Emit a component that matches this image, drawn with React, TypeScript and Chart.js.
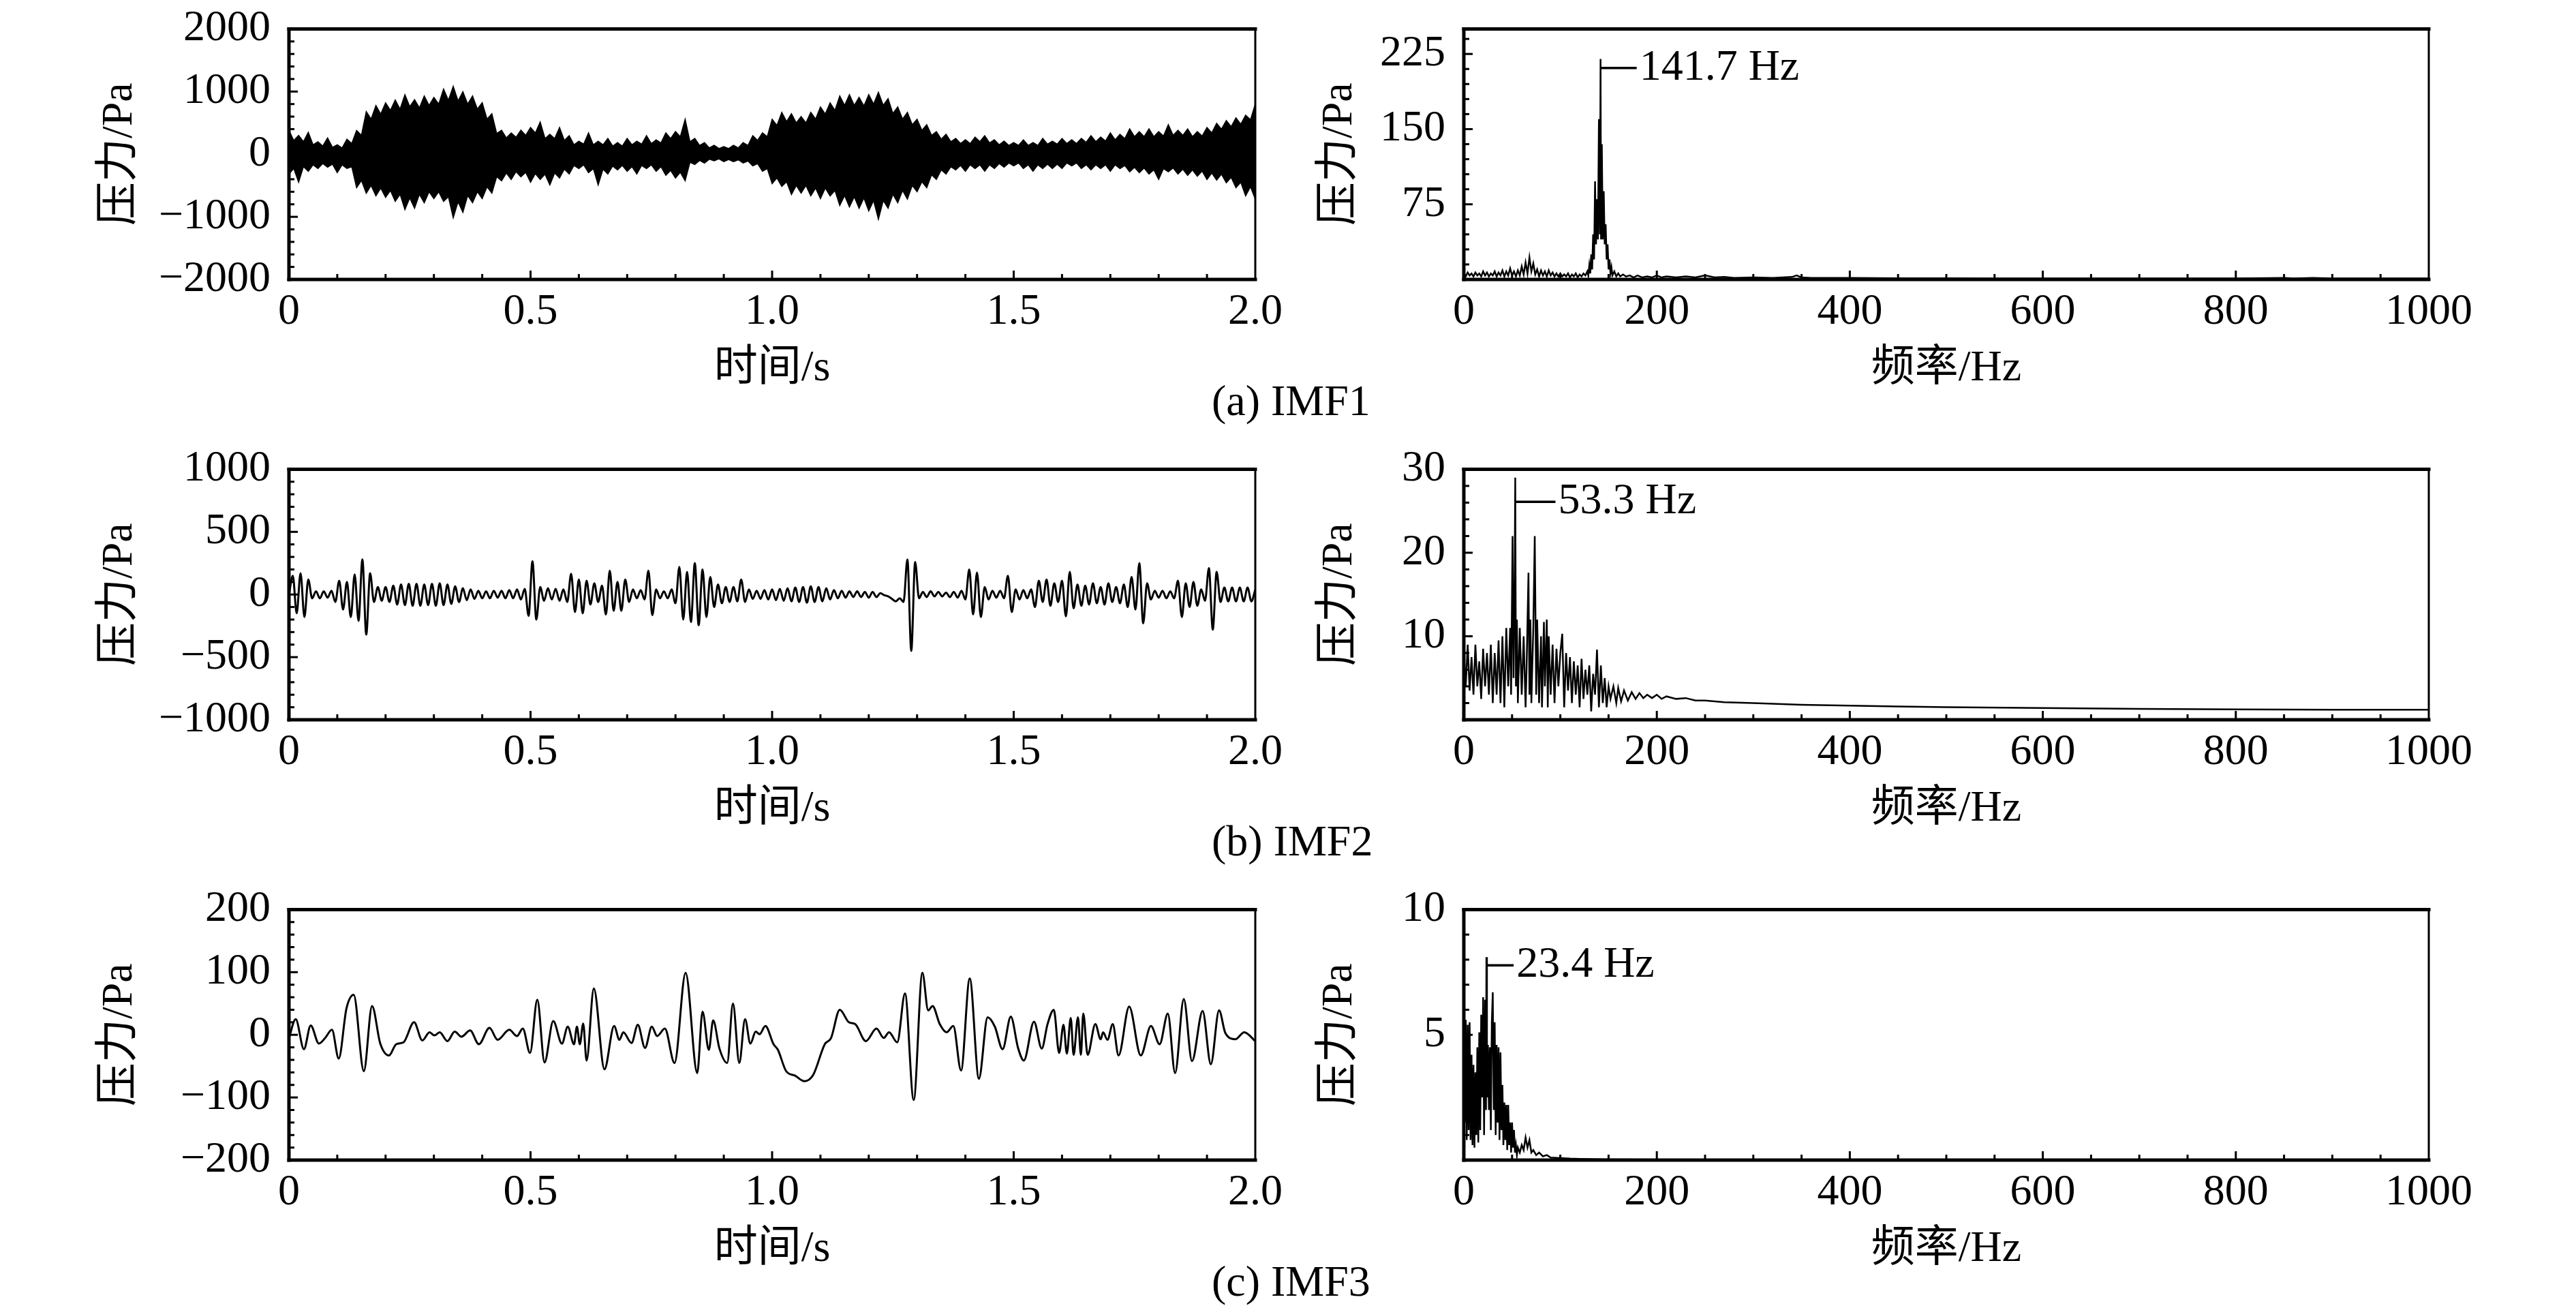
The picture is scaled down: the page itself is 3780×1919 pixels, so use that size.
import { useEffect, useRef } from "react"
import { Chart, registerables } from "chart.js"

Chart.register(...registerables)

// ---------- axis ticks ----------
const timeTicks = [0, 0.5, 1, 1.5, 2]
const timeTickLabels = ["0", "0.5", "1.0", "1.5", "2.0"]
const freqTicks = [0, 200, 400, 600, 800, 1000]
const freqTickLabels = ["0", "200", "400", "600", "800", "1000"]

const imf1YTicks = [-2000, -1000, 0, 1000, 2000]
const imf1YLabels = ["−2000", "−1000", "0", "1000", "2000"]
const imf2YTicks = [-1000, -500, 0, 500, 1000]
const imf2YLabels = ["−1000", "−500", "0", "500", "1000"]
const imf3YTicks = [-200, -100, 0, 100, 200]
const imf3YLabels = ["−200", "−100", "0", "100", "200"]

const spec1YTicks = [75, 150, 225]
const spec2YTicks = [10, 20, 30]
const spec3YTicks = [5, 10]

const captions = ["(a) IMF1", "(b) IMF2", "(c) IMF3"]

// ---------- IMF1: upper / lower envelope of the dense signal, every 0.01 s ----------
const imf1Step = 0.01
const imf1Upper = [
  380, 220, 300, 200, 350, 150, 200, 130, 260, 110, 150, 100, 240, 170, 380, 300, 680, 560, 777, 640,
  821, 700, 865, 720, 950, 760, 870, 740, 930, 780, 908, 800, 1040, 860, 1083, 850, 996, 800, 930, 720,
  821, 560, 646, 330, 383, 260, 340, 270, 383, 300, 427, 340, 515, 250, 318, 250, 427, 220, 296, 150,
  208, 160, 340, 150, 208, 150, 252, 130, 186, 130, 252, 150, 208, 160, 296, 170, 230, 180, 340, 250,
  361, 280, 558, 200, 252, 140, 186, 100, 143, 90, 121, 90, 143, 100, 186, 140, 296, 220, 340, 280,
  558, 460, 668, 520, 646, 500, 602, 500, 668, 560, 755, 640, 821, 700, 930, 780, 952, 780, 908, 770,
  952, 800, 990, 780, 887, 650, 755, 560, 668, 470, 558, 380, 471, 300, 361, 240, 318, 200, 252, 170,
  230, 170, 274, 200, 296, 180, 230, 150, 208, 140, 186, 140, 230, 140, 186, 140, 252, 160, 208, 160,
  252, 170, 230, 170, 252, 190, 296, 200, 274, 210, 340, 230, 318, 250, 405, 280, 361, 280, 405, 280,
  361, 290, 471, 300, 383, 300, 405, 280, 361, 290, 427, 340, 493, 400, 536, 440, 580, 480, 624, 550,
  800,
]
const imf1Lower = [
  -317, -230, -448, -200, -273, -170, -229, -150, -207, -160, -295, -170, -229, -200, -536, -420, -623, -500, -667, -540,
  -689, -580, -754, -640, -886, -700, -864, -640, -776, -600, -711, -600, -754, -680, -1017, -760, -930, -660, -776, -600,
  -711, -520, -623, -360, -426, -300, -404, -280, -361, -290, -448, -310, -404, -320, -492, -300, -382, -240, -317, -180,
  -229, -170, -295, -230, -492, -240, -317, -190, -251, -180, -273, -200, -317, -180, -229, -170, -273, -200, -339, -260,
  -382, -290, -426, -130, -164, -100, -142, -80, -107, -75, -120, -85, -120, -90, -142, -110, -186, -150, -273, -230,
  -470, -380, -514, -440, -645, -500, -623, -500, -667, -540, -711, -540, -667, -580, -820, -660, -842, -680, -864, -700,
  -908, -740, -1039, -740, -864, -640, -776, -580, -719, -500, -601, -440, -536, -330, -404, -250, -317, -200, -251, -180,
  -273, -170, -229, -170, -273, -170, -229, -150, -207, -140, -186, -140, -229, -170, -273, -170, -229, -160, -229, -160,
  -229, -140, -186, -140, -229, -170, -251, -170, -229, -170, -273, -170, -229, -180, -282, -210, -295, -220, -317, -250,
  -404, -230, -282, -220, -317, -240, -339, -250, -352, -270, -404, -300, -413, -320, -457, -370, -536, -450, -667, -520,
  -719,
]

// ---------- IMF2: signal extrema, every 0.008 s ----------
const imf2Step = 0.008
const imf2Values = [
  0, 150, -150, 170, -180, 120, -30, 25, -30, 25,
  -25, 30, -60, 110, -120, 100, -180, 160, -210, 280,
  -320, 170, -60, 60, -50, 60, -60, 70, -80, 80,
  -85, 85, -90, 85, -90, 80, -85, 85, -90, 90,
  -85, 80, -75, 65, -60, 50, -45, 40, -35, 30,
  -30, 25, -30, 30, -25, 30, -30, 35, -30, 40,
  -40, 45, -170, 265, -200, 60, -50, 50, -40, 45,
  -50, 40, -60, 165, -140, 120, -150, 110, -80, 90,
  -60, 70, -160, 190, -130, 100, -130, 120, -60, 40,
  -30, 35, -40, 190, -165, 40, -30, 25, -30, 40,
  -70, 220, -200, 180, -220, 250, -245, 200, -180, 140,
  -100, 80, -70, 60, -60, 60, -55, 120, -60, 40,
  -35, 30, -35, 35, -40, 40, -45, 45, -50, 50,
  -55, 55, -60, 60, -65, 65, -60, 60, -55, 50,
  -40, 35, -30, 30, -25, 25, -20, 25, -20, 20,
  -25, 20, -20, 10, -5, -15, -35, -55, -30, -60,
  280, -450, 260, -30, 20, -20, 25, -15, 20, -15,
  15, -20, 20, -25, 30, -40, 200, -160, 175, -180,
  60, -40, 30, -25, 30, -30, 150, -140, 40, -40,
  35, -30, 40, -100, 110, -60, 120, -90, 90, -60,
  110, -175, 180, -110, 80, -90, 70, -80, 90, -70,
  60, -80, 90, -60, 60, -70, 80, -100, 140, -120,
  250, -230, 90, -40, 30, -25, 30, -30, 25, -30,
  110, -180, 90, -100, 100, -90, 40, -50, 210, -280,
  180, -60, 55, -55, 55, -55, 55, -55, 55, -55,
  40,
]

// ---------- IMF3 ----------
const imf3Time = [
  0, 0.014, 0.031, 0.045, 0.062, 0.075, 0.089, 0.103, 0.119, 0.134,
  0.155, 0.172, 0.189, 0.207, 0.222, 0.237, 0.259, 0.276, 0.291, 0.301,
  0.312, 0.328, 0.343, 0.357, 0.375, 0.393, 0.415, 0.432, 0.456, 0.472,
  0.484, 0.499, 0.514, 0.529, 0.547, 0.565, 0.577, 0.59, 0.596, 0.602,
  0.609, 0.616, 0.631, 0.653, 0.673, 0.684, 0.692, 0.709, 0.722, 0.737,
  0.751, 0.762, 0.778, 0.798, 0.821, 0.845, 0.856, 0.869, 0.878, 0.891,
  0.907, 0.919, 0.932, 0.944, 0.955, 0.966, 0.974, 0.986, 1.003, 1.012,
  1.029, 1.047, 1.067, 1.085, 1.109, 1.122, 1.14, 1.159, 1.172, 1.194,
  1.216, 1.231, 1.242, 1.259, 1.275, 1.293, 1.311, 1.323, 1.332, 1.347,
  1.361, 1.375, 1.391, 1.409, 1.428, 1.446, 1.461, 1.477, 1.494, 1.509,
  1.521, 1.542, 1.558, 1.57, 1.583, 1.594, 1.603, 1.61, 1.618, 1.624,
  1.633, 1.639, 1.644, 1.653, 1.669, 1.68, 1.685, 1.694, 1.705, 1.717,
  1.739, 1.763, 1.784, 1.802, 1.819, 1.834, 1.852, 1.869, 1.891, 1.908,
  1.925, 1.938, 1.959, 1.977, 2.0,
]
const imf3Value = [
  -5, 25, -23, 15, -14, -5, 8, -38, 42, 64,
  -58, 46, -14, -33, -15, -12, 20, -9, 4, -1,
  4, -10, 5, -3, 7, -15, 11, -8, 8, -2,
  10, -29, 56, -44, 22, -14, 13, -15, 13, -15,
  18, -41, 74, -55, 14, -8, 4, -13, 16, -21,
  13, -2, 10, -45, 99, -61, 37, -24, 23, -22,
  -45, 50, -45, 25, -14, 5, 1, 14, -15, -24,
  -58, -65, -74, -64, -15, -5, 40, 20, 17, -10,
  10, -5, 4, -12, 66, -104, 99, 39, 46, 17,
  4, 14, -57, 90, -70, 28, 13, -23, 29, -21,
  -41, 21, -22, 17, 40, -29, 16, -30, 27, -32,
  28, -32, 34, -32, 17, -7, 4, -8, 17, -33,
  45, -33, 14, -15, 34, -61, 57, -42, 38, -47,
  39, 3, -7, 4, -10,
]

// ---------- spectra ----------
const spec1Freq = [
  0, 2, 4, 6, 8, 10, 12, 14, 16, 18,
  20, 22, 24, 26, 28, 30, 32, 34, 36, 38,
  40, 42, 44, 46, 48, 50, 52, 54, 56, 58,
  60, 62, 64, 66, 68, 70, 72, 74, 76, 78,
  80, 82, 84, 86, 88, 90, 92, 94, 96, 98,
  100, 102, 104, 106, 108, 110, 112, 114, 116, 118,
  120, 122, 124, 126, 128, 129, 130, 131, 132, 133,
  134, 135, 136, 137, 138, 139, 140, 141, 141.7, 142.2,
  143, 144, 145, 146, 147, 148, 149, 150, 151, 152,
  153, 154, 156, 158, 160, 162, 165, 168, 172, 176,
  180, 185, 190, 195, 200, 205, 210, 220, 230, 240,
  250, 260, 270, 280, 300, 320, 340, 345, 350, 360,
  380, 400, 450, 500, 550, 600, 650, 700, 750, 800,
  850, 860, 880, 900, 950, 1000,
]
const spec1Amp = [
  6, 3, 7, 4, 6, 3, 7, 4, 6, 3,
  8, 4, 7, 3, 6, 4, 8, 3, 7, 4,
  9, 3, 8, 4, 11, 4, 8, 3, 9, 4,
  13, 5, 17, 6, 22, 8, 16, 5, 10, 3,
  9, 4, 8, 3, 9, 4, 7, 3, 6, 3,
  6, 3, 5, 3, 6, 2, 5, 3, 6, 2,
  5, 3, 6, 4, 8, 4, 14, 6, 25, 10,
  45, 20, 98, 35, 80, 40, 160, 45, 220, 40,
  135, 40, 88, 35, 55, 20, 35, 10, 20, 6,
  12, 4, 8, 3, 6, 3, 5, 3, 4, 2,
  4, 2, 3, 2, 4, 2, 3, 2, 3, 2,
  4, 2, 2.5, 1.5, 2, 1.5, 2.5, 4, 2, 1.5,
  1.5, 1.5, 1.2, 1.2, 1, 1, 1, 1, 1, 1,
  1.5, 1, 1.5, 1, 1, 1,
]

const spec2Freq = [
  0, 2, 4, 6, 8, 10, 12, 14, 16, 18,
  20, 22, 24, 26, 28, 30, 32, 34, 36, 38,
  40, 42, 44, 46, 48, 49, 50.5, 51.5, 52.5, 53.3,
  54, 55, 56, 58, 60, 62, 64, 65, 67, 68,
  69, 70, 72, 73.5, 75, 76, 78, 80, 81, 83,
  84, 86, 87, 88, 90, 92, 94, 96, 98, 100,
  102, 104, 106, 108, 110, 112, 114, 116, 118, 120,
  122, 124, 126, 128, 130, 132, 134, 136, 138, 140,
  142, 144, 146, 148, 150, 152, 155, 158, 160, 163,
  166, 170, 174, 178, 182, 186, 190, 195, 200, 205,
  210, 220, 230, 240, 250, 270, 300, 350, 400, 450,
  500, 600, 700, 800, 900, 1000,
]
const spec2Amp = [
  8, 4, 9, 3.5, 7.5, 3, 9, 4, 7, 2.5,
  8.5, 4, 8, 3, 9, 2, 8, 3, 9.5, 2,
  10, 1.5, 11, 4, 11, 3, 22, 5, 14, 29,
  4, 12, 2, 11, 3, 10, 1.5, 6, 17.6, 3,
  12, 2, 11, 22, 3, 12, 2, 10, 1.5, 11.7,
  4, 12, 1.5, 10, 3, 9, 2, 8.5, 4, 8,
  10.3, 1.5, 8, 3.5, 7.5, 2, 7, 3, 6.5, 1.5,
  7.3, 2.5, 6, 3, 6.5, 1, 5.5, 3, 8.4, 1.5,
  6.5, 2, 5, 1.5, 4, 2.5, 4, 2, 3.8, 2.2,
  3.5, 2.3, 3.3, 2.5, 3.2, 2.6, 3, 2.6, 3, 2.5,
  2.8, 2.5, 2.6, 2.3, 2.3, 2.1, 2, 1.8, 1.7, 1.6,
  1.5, 1.4, 1.3, 1.25, 1.2, 1.2,
]

const spec3Freq = [
  0, 1, 2, 3, 4, 5, 6, 7, 8, 9,
  10, 11, 12, 13, 14, 15, 16, 17, 18, 19,
  20, 21, 22, 23, 23.4, 24, 25, 26, 27, 28,
  29, 30, 31, 32, 33, 34, 35, 36, 37, 38,
  39, 40, 41, 42, 43, 44, 45, 46, 47, 48,
  49, 50, 51, 52, 53, 54, 55, 56, 58, 60,
  62, 64, 66, 68, 70, 72, 75, 78, 82, 86,
  90, 100, 110, 120, 150, 200, 300, 400, 600, 800,
  1000,
]
const spec3Amp = [
  5.5, 1.5, 5.6, 0.8, 5.4, 1.2, 5.5, 0.8, 4.2, 0.6,
  3.8, 0.5, 3.5, 1.0, 4.5, 0.7, 5.1, 1.2, 5.8, 2.5,
  6.5, 1.0, 6.4, 2.0, 8.1, 2.5, 4.6, 2.0, 4.5, 1.2,
  5.5, 6.7, 2.0, 5.5, 1.0, 4.6, 1.5, 4.5, 0.8, 4.3,
  1.2, 3.0, 0.6, 2.3, 0.8, 2.2, 0.4, 2.2, 0.6, 1.5,
  0.3, 1.5, 0.5, 1.2, 0.3, 0.6, 0.2, 0.5, 0.3, 0.6,
  0.4, 0.9, 0.5, 0.8, 0.3, 0.4, 0.2, 0.3, 0.15, 0.2,
  0.1, 0.08, 0.06, 0.05, 0.03, 0.02, 0.01, 0.01, 0.01, 0.01,
  0.01,
]

const peakLabels = [
  { freq: 141.7, level: 211, text: "141.7 Hz" },
  { freq: 53.3, level: 26.1, text: "53.3 Hz" },
  { freq: 23.4, level: 7.77, text: "23.4 Hz" },
]

// ---------- layout ----------
const SERIF = "'Liberation Serif', 'Noto Sans CJK SC', serif"
const FONT_SIZE = 64
const AXIS_W = 300
const AXIS_H = 180
const PAD_TOP = 60
const PAD_RIGHT = 90
const LEFT_X = 424
const LEFT_W = 1418
const RIGHT_X = 2148
const RIGHT_W = 1416
const ROW_Y = [37, 683, 1329]
const ROW_H = 373
const LEADER = [53, 59, 40]

const pts = (xs: number[], ys: number[]) => xs.map((x, i) => ({ x, y: ys[i] }))
const stepPts = (step: number, ys: number[]) => ys.map((y, i) => ({ x: i * step, y }))

const line = (data: any[], extra: any = {}) => ({
  data,
  borderColor: "#000",
  borderWidth: 3,
  pointRadius: 0,
  fill: false,
  ...extra,
})

const framePlugin = {
  id: "frame",
  afterDatasetsDraw(chart: any, _args: any, opts: any) {
    const { ctx, chartArea: a } = chart
    const xs = chart.scales.x
    const ys = chart.scales.y
    ctx.save()
    ctx.strokeStyle = "#000"
    ctx.lineCap = "butt"
    ctx.lineWidth = 3
    const ticks = (scale: any, minor: number, major: number, horizontal: boolean) => {
      const n = Math.round((scale.max - scale.min) / minor)
      for (let i = 1; i < n; i++) {
        const v = scale.min + i * minor
        const r = v / major
        const len = Math.abs(r - Math.round(r)) < 1e-6 ? 13 : 8
        const p = scale.getPixelForValue(v)
        ctx.beginPath()
        if (horizontal) {
          ctx.moveTo(p, a.bottom)
          ctx.lineTo(p, a.bottom - len)
        } else {
          ctx.moveTo(a.left, p)
          ctx.lineTo(a.left + len, p)
        }
        ctx.stroke()
      }
    }
    ticks(xs, opts.xMinor, opts.xMajor, true)
    ticks(ys, opts.yMinor, opts.yMajor, false)

    ctx.lineCap = "square"
    const edge = (x1: number, y1: number, x2: number, y2: number, w: number) => {
      ctx.lineWidth = w
      ctx.beginPath()
      ctx.moveTo(x1, y1)
      ctx.lineTo(x2, y2)
      ctx.stroke()
    }
    edge(a.left, a.top, a.right, a.top, 5)
    edge(a.left, a.bottom, a.right, a.bottom, 5)
    edge(a.left, a.top, a.left, a.bottom, 5)
    edge(a.right, a.top, a.right, a.bottom, 3)
    ctx.restore()
  },
}

const peakPlugin = {
  id: "peakLabel",
  afterDatasetsDraw(chart: any, _args: any, opts: any) {
    if (!opts || !opts.text) return
    const { ctx } = chart
    const x0 = chart.scales.x.getPixelForValue(opts.freq)
    const y0 = chart.scales.y.getPixelForValue(opts.level)
    ctx.save()
    ctx.strokeStyle = "#000"
    ctx.lineWidth = 3.5
    ctx.beginPath()
    ctx.moveTo(x0, y0)
    ctx.lineTo(x0 + opts.len, y0)
    ctx.stroke()
    ctx.fillStyle = "#000"
    ctx.font = `${FONT_SIZE}px ${SERIF}`
    ctx.textAlign = "left"
    ctx.textBaseline = "alphabetic"
    ctx.fillText(opts.text, x0 + opts.len + 4, y0 + 17)
    ctx.restore()
  },
}

type PanelSpec = {
  x: number
  y: number
  w: number
  h: number
  datasets: () => any[]
  xMax: number
  xTicks: number[]
  xLabels: string[]
  xMinor: number
  xMajor: number
  xTitle: string
  yMin: number
  yMax: number
  yTicks: number[]
  yLabels: string[]
  yMinor: number
  yMajor: number
  yTitlePad: number
  peak?: any
}

const timePanel = (row: number, extra: any): PanelSpec => ({
  x: LEFT_X,
  y: ROW_Y[row],
  w: LEFT_W,
  h: ROW_H,
  xMax: 2,
  xTicks: timeTicks,
  xLabels: timeTickLabels,
  xMinor: 0.1,
  xMajor: 0.5,
  xTitle: "时间/s",
  yTitlePad: 14,
  ...extra,
})

const specPanel = (row: number, extra: any): PanelSpec => ({
  x: RIGHT_X,
  y: ROW_Y[row],
  w: RIGHT_W,
  h: ROW_H,
  xMax: 1000,
  xTicks: freqTicks,
  xLabels: freqTickLabels,
  xMinor: 50,
  xMajor: 200,
  xTitle: "频率/Hz",
  yTitlePad: 80,
  yMin: 0,
  peak: { ...peakLabels[row], len: LEADER[row] },
  ...extra,
})

const panels: PanelSpec[] = [
  timePanel(0, {
    datasets: () => [
      line(stepPts(imf1Step, imf1Upper), { borderWidth: 1.5 }),
      line(stepPts(imf1Step, imf1Lower), { borderWidth: 1.5, backgroundColor: "#000", fill: "-1" }),
    ],
    yMin: -2000, yMax: 2000, yTicks: imf1YTicks, yLabels: imf1YLabels, yMinor: 200, yMajor: 1000,
  }),
  timePanel(1, {
    datasets: () => [line(stepPts(imf2Step, imf2Values), { cubicInterpolationMode: "monotone" })],
    yMin: -1000, yMax: 1000, yTicks: imf2YTicks, yLabels: imf2YLabels, yMinor: 100, yMajor: 500,
  }),
  timePanel(2, {
    datasets: () => [line(pts(imf3Time, imf3Value), { cubicInterpolationMode: "monotone" })],
    yMin: -200, yMax: 200, yTicks: imf3YTicks, yLabels: imf3YLabels, yMinor: 20, yMajor: 100,
  }),
  specPanel(0, {
    datasets: () => [line(pts(spec1Freq, spec1Amp), { borderWidth: 2.5 })],
    yMax: 250, yTicks: spec1YTicks, yLabels: spec1YTicks.map(String), yMinor: 15, yMajor: 75,
  }),
  specPanel(1, {
    datasets: () => [line(pts(spec2Freq, spec2Amp), { borderWidth: 2.5 })],
    yMax: 30, yTicks: spec2YTicks, yLabels: spec2YTicks.map(String), yMinor: 2, yMajor: 10,
  }),
  specPanel(2, {
    datasets: () => [line(pts(spec3Freq, spec3Amp), { borderWidth: 2.5 })],
    yMax: 10, yTicks: spec3YTicks, yLabels: spec3YTicks.map(String), yMinor: 1, yMajor: 5,
  }),
]

function Panel({ spec }: { spec: PanelSpec }) {
  const canvasRef = useRef<HTMLCanvasElement>(null)
  const width = AXIS_W + spec.w + PAD_RIGHT
  const height = PAD_TOP + spec.h + AXIS_H

  useEffect(() => {
    if (!canvasRef.current) return
    const font = { family: SERIF, size: FONT_SIZE, lineHeight: 1.2 }

    const chart = new Chart(canvasRef.current, {
      type: "line",
      data: { datasets: spec.datasets() },
      options: {
        animation: false,
        responsive: false,
        devicePixelRatio: 1,
        events: [],
        layout: { padding: { top: PAD_TOP, right: PAD_RIGHT, left: 0, bottom: 0 }, autoPadding: false },
        plugins: {
          legend: { display: false },
          tooltip: { enabled: false },
          frame: { xMinor: spec.xMinor, xMajor: spec.xMajor, yMinor: spec.yMinor, yMajor: spec.yMajor },
          peakLabel: spec.peak || {},
        } as any,
        scales: {
          x: {
            type: "linear",
            min: 0,
            max: spec.xMax,
            grid: { display: false, drawTicks: false },
            border: { display: false },
            afterBuildTicks: (s: any) => {
              s.ticks = spec.xTicks.map((value) => ({ value }))
            },
            afterFit: (s: any) => {
              s.height = AXIS_H
            },
            ticks: {
              autoSkip: false,
              maxRotation: 0,
              padding: 10,
              color: "#000",
              font,
              callback: (_v: any, i: number) => spec.xLabels[i],
            },
            title: {
              display: true,
              text: spec.xTitle,
              color: "#000",
              font,
              padding: { top: 0, bottom: 10 },
            },
          },
          y: {
            type: "linear",
            min: spec.yMin,
            max: spec.yMax,
            grid: { display: false, drawTicks: false },
            border: { display: false },
            afterBuildTicks: (s: any) => {
              s.ticks = spec.yTicks.map((value) => ({ value }))
            },
            afterFit: (s: any) => {
              s.width = AXIS_W
            },
            ticks: {
              autoSkip: false,
              padding: 27,
              color: "#000",
              font,
              callback: (_v: any, i: number) => spec.yLabels[i],
            },
            title: {
              display: true,
              text: "压力/Pa",
              color: "#000",
              font,
              padding: { top: spec.yTitlePad, bottom: 0 },
            },
          },
        },
      },
      plugins: [framePlugin, peakPlugin],
    } as any)

    return () => chart.destroy()
  }, [spec])

  return (
    <canvas
      ref={canvasRef}
      width={width}
      height={height}
      style={{
        position: "absolute",
        left: spec.x - AXIS_W,
        top: spec.y - PAD_TOP,
        width,
        height,
      }}
    />
  )
}

export default function App() {
  return (
    <div
      style={{
        position: "absolute",
        left: 0,
        top: 0,
        width: 3780,
        height: 1919,
        background: "#fff",
        overflow: "hidden",
      }}
    >
      {panels.map((p, i) => (
        <Panel key={i} spec={p} />
      ))}
      {captions.map((c, i) => (
        <div
          key={c}
          style={{
            position: "absolute",
            left: 1778,
            top: 556 + i * 646,
            fontFamily: SERIF,
            fontSize: FONT_SIZE,
            lineHeight: `${FONT_SIZE}px`,
            whiteSpace: "nowrap",
            color: "#000",
          }}
        >
          {c}
        </div>
      ))}
    </div>
  )
}
